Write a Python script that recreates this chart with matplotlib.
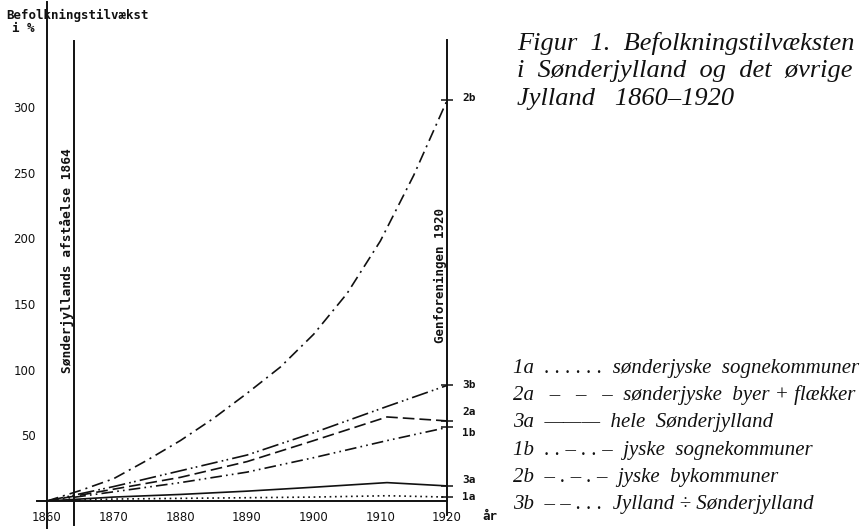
import matplotlib.pyplot as plt

# census years and growth in % since 1860
years = [1860, 1870, 1880, 1890, 1900, 1911, 1920]
s1a = [0, 1.5, 2, 2.5, 3, 4, 3]
s2a = [0, 9, 18, 30, 46, 64, 61]
s3a = [0, 3, 5, 7.5, 10.5, 14, 11.5]
s1b = [0, 7, 14, 22, 33, 46, 56]
s3b = [0, 11, 23, 35, 52, 72, 88]
# jyske bykommuner read every 5 years (smooth curve)
years_2b = [1860, 1865, 1870, 1875, 1880, 1885, 1890, 1895, 1900, 1905,
            1910, 1915, 1920]
s2b = [0, 8, 17, 31, 46, 63, 82, 102, 127, 158, 198, 248, 305]
codes = ['1a', '2a', '3a', '1b', '2b', '3b']
ytick_vals = [50, 100, 150, 200, 250, 300]
xtick_vals = [1860, 1870, 1880, 1890, 1900, 1910, 1920]

ink = '#111111'
mono = 'DejaVu Sans Mono'
serif = 'Liberation Serif'

fig = plt.figure(figsize=(8.68, 5.29), dpi=100)
ax = fig.add_axes([37 / 868, 28 / 529, (473.7 - 37) / 868, 499 / 529])
ax.set_xlim(1858.5, 1924)
ax.set_ylim(0, 380)
for sp in ax.spines.values():
    sp.set_visible(False)

styles = {
    '1a': (0, (1, 2.2)),
    '2a': (0, (7, 3)),
    '3a': '-',
    '1b': (0, (7, 2.5, 1, 2.5, 1, 2.5)),
    '2b': (0, (7, 3, 1.2, 3)),
    '3b': (0, (10, 2.5, 1, 2, 1, 2.5)),
}
series = {'1a': (years, s1a), '2a': (years, s2a), '3a': (years, s3a),
          '1b': (years, s1b), '2b': (years_2b, s2b), '3b': (years, s3b)}
for c in codes:
    xs, ys = series[c]
    ax.plot(xs, ys, color=ink, lw=1.2, ls=styles[c])
    ax.plot(xs[-1], ys[-1], marker='_', ms=8, mew=1.1, color=ink)

# frame lines
ax.plot([1860, 1860], [-21.3, 380], color=ink, lw=1.4, clip_on=False)
ax.plot([1864, 1864], [-18, 350], color=ink, lw=1.4, clip_on=False)
ax.plot([1920, 1920], [-11, 351], color=ink, lw=1.4, clip_on=False)
ax.plot([1858.5, 1920], [0, 0], color=ink, lw=1.4, clip_on=False)

ax.set_xticks(xtick_vals)
ax.set_yticks(ytick_vals)
ax.tick_params(length=0, labelsize=8.5, colors=ink)
ax.tick_params(axis='x', pad=7)
ax.tick_params(axis='y', pad=1)

fig.text(490 / 868, 1 - 517 / 529, 'år', fontsize=9, family=mono,
         weight='bold', ha='center', va='center', color=ink)

fig.text(6 / 868, 1 - 15 / 529, 'Befolkningstilvækst', fontsize=9,
         family=mono, weight='bold', va='center', color=ink)
fig.text(12 / 868, 1 - 29 / 529, 'i %', fontsize=9, family=mono,
         weight='bold', va='center', color=ink)

ax.text(1863.0, 183, 'Sønderjyllands afståelse 1864', rotation=90,
        fontsize=9.3, family=mono, weight='bold', ha='center', va='center',
        color=ink)
ax.text(1919.0, 172, 'Genforeningen 1920', rotation=90, fontsize=9,
        family=mono, weight='bold', ha='center', va='center', color=ink)

# end labels right of the 1920 line
end_label_y = {'2b': 307, '3b': 88, '2a': 68, '1b': 52, '3a': 16, '1a': 3}
for c in codes:
    ax.text(1922.3, end_label_y[c], c, fontsize=8, family=mono,
            weight='bold', va='center', color=ink, clip_on=False)

# caption
title_lines = ['Figur  1.  Befolkningstilvæksten',
               'i  Sønderjylland  og  det  øvrige',
               'Jylland   1860–1920']
for i, t in enumerate(title_lines):
    fig.text(517 / 868, 1 - (50 + 27.5 * i) / 529, t, fontsize=19,
             family=serif, style='italic', va='baseline', color=ink)

legend_lines = ['1a  . . . . . .  sønderjyske  sognekommuner',
                '2a   –   –   –  sønderjyske  byer + flækker',
                '3a  ———  hele  Sønderjylland',
                '1b  . . – . . –  jyske  sognekommuner',
                '2b  – . – . –  jyske  bykommuner',
                '3b  – – . . .  Jylland ÷ Sønderjylland']
for i, t in enumerate(legend_lines):
    fig.text(513 / 868, 1 - (373 + 27.2 * i) / 529, t, fontsize=15,
             family=serif, style='italic', va='baseline', color=ink)

fig.savefig('out.png', dpi=100)
